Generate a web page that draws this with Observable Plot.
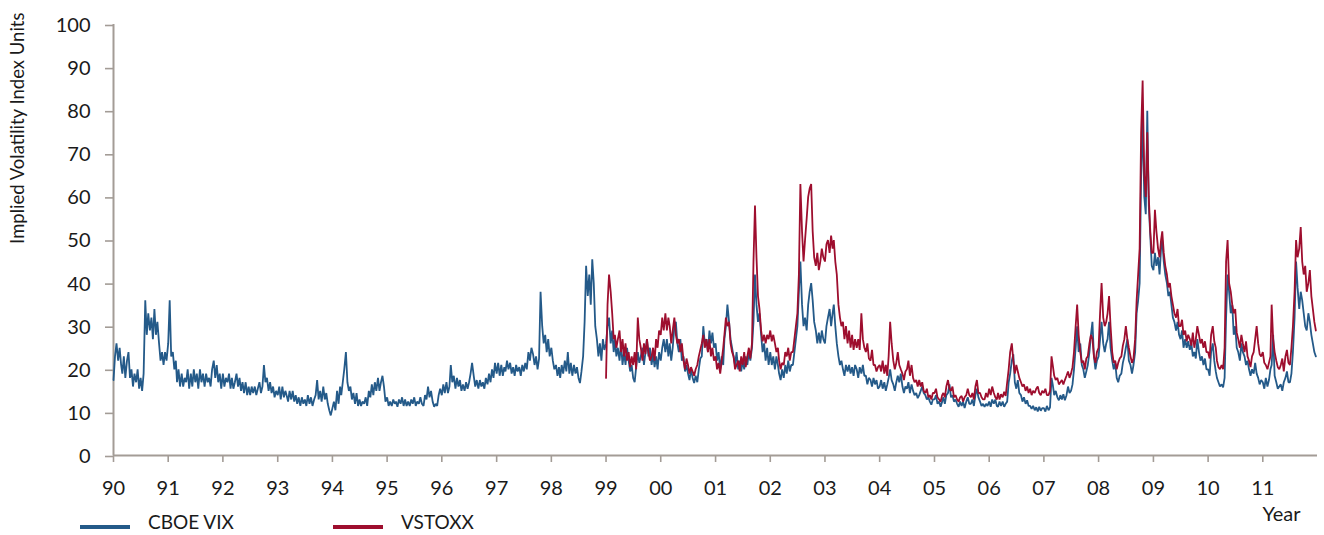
<!DOCTYPE html>
<html>
<head>
<meta charset="utf-8">
<script src="https://cdn.jsdelivr.net/npm/d3@7"></script>
<script src="https://cdn.jsdelivr.net/npm/@observablehq/plot@0.6"></script>
<style>
  html, body { margin: 0; padding: 0; background: #fff; }
  #wrap { position: relative; width: 1324px; height: 535px; overflow: hidden; font-family: Lato, "Open Sans", sans-serif; color: #1a1a1a; }
  #wrap svg { display: block; }
  .sw { position: absolute; height: 4px; top: 525px; }
  .lt { position: absolute; top: 513px; font-size: 19px; line-height: 18px; height: 18px; white-space: nowrap; }
</style>
</head>
<body>
<div id="wrap"></div>
<script>
// ---- data (3 readings per month: days 1, 11, 21) ----
const sampleDays = [1, 11, 21];
const vixStartYear = 1990;
const vstoxxStartYear = 1999;

const vixLevels = [
  // 1990
  17.5,23,26, 22,25,21, 19,23,18, 22,24,18, 20,16,19, 17,20,15.5, 18,15,19, 36,28,33, 29,32,27, 34,28,31, 26,22,24, 21,24,22,
  // 1991
  26,36,23, 24,20,22, 17,20,16, 19,16,18, 17,20,15.5, 19,16,20, 17,19,15.5, 20,17,19, 16,19,17, 18,16,20, 22,18,21, 17,19,15.5,
  // 1992
  19,16,18, 17,19,15.5, 18,15.5,17, 19,16,18, 15,17,14.5, 17,14,16, 14,16,14.5, 16,14,15.5, 17,14.5,16, 21,17,18, 15,17,14.5, 16,13.5,15,
  // 1993
  14,16,13, 16,13.5,15, 14,12.5,15, 13,15,12.5, 14,12,13.5, 11.5,13.5,12, 13,11.5,14, 12,13.5,11.5, 13,14,17.5, 13,15,12.5, 16,13,14.5, 12,10.5,9.3,
  // 1994
  11,12.5,10.5, 15,12,16, 14,17,20, 24,17,15, 16,13,14.5, 12,14.5,11.5, 13,11.5,12.5, 12,13.5,11.5, 15,13.5,16.5, 14,17,15, 18,15,17, 18.5,16,12.5,
  // 1995
  13.5,11.5,12.5, 11.5,13,12, 12.5,11.3,13, 12,13.5,11.5, 13,11.5,12.5, 11.5,13,12, 13.5,11.5,12.5, 12,13.5,12, 11.5,14,13, 16,13.5,15, 12.5,11.3,12, 11.5,14,15.5,
  // 1996
  14,16.5,14.5, 17,14.5,16, 21,17,18.5, 15.5,18,16, 17.5,15,16.5, 15,17,15.5, 17,19,21.5, 18.5,16,17.5, 15.5,17.5,16, 17,15.5,18, 16.5,19,17, 20,18,21.5,
  // 1997
  19,21.5,18.5, 21,18.5,20.5, 19.5,22,20, 21.5,19,20.5, 18.5,21,19.5, 20.5,18.5,21, 19.5,21.5,20, 24,22,25, 23.5,21,23, 20,22.5,38, 30,26,28, 24,27,23,
  // 1998
  25,22,20, 21,18.5,20.5, 18,21,19, 22,19.5,24, 19,21.5,18.5, 21,19,20.5, 18,16.8,19.5, 23,31,44, 37,42,35, 45.5,40,30, 27,23,26, 22,27,24.5,
  // 1999
  26,30,32, 26,29,24, 27,23,25, 22,26,21, 24,21,25, 22,19.5,21, 18,17,20.5, 24,21.5,23, 25,21,24, 27,23,25, 21,23.5,20.5, 23,20,24,
  // 2000
  22,25,27, 24,27,23, 26,22,25, 30,31,26, 24,27,22, 23,19.5,21, 19,17.5,20, 18,16.8,18.5, 17,20,22.5, 23,30,26, 27,24,29, 26,28.5,25,
  // 2001
  26,22,24, 20,23,21, 27,30,35, 31,27,25, 23,21,24, 20,22,19.5, 22,20,23, 21,24,22, 25,31,42, 35,31,33, 28,24,26, 22,25,21,
  // 2002
  24,21,23, 20,23,21, 19,17.5,20, 18,21,19, 22,19.5,21, 21,24,27, 30,38,45, 35,30,32, 29,35,38, 40,36,31, 29,26,28.5, 26,29,27,
  // 2003
  26,30,32, 34,30,33, 35,30,26, 23,21,22, 20,18.5,21, 19.5,21,19, 20.5,18.5,21, 20,18,20.5, 19,21,18.5, 18.5,16.5,18, 17.5,16,18, 16.5,17.5,15.5,
  // 2004
  16,17.5,15.5, 17,15,16.5, 18,20,17.5, 16.5,15,17, 18.5,17,19, 16,14.5,16, 15.5,17,14.5, 16.5,15,14, 14.5,13.3,14, 15,16,14.5, 14,13,13.5, 12.5,11.8,13,
  // 2005
  13,14,12, 12.5,11.3,12.5, 13.5,12,14, 14.5,16.5,13.5, 14,12.5,13, 12,11.3,12.5, 11.5,12.5,11, 12.5,13.5,12, 12,13,11.5, 14,15.5,13.5, 12.5,11.5,12, 11.3,12,11.5,
  // 2006
  12.5,11.3,13, 12,13,11.5, 11.3,12.5,11.5, 12.5,11.3,12, 12.5,17,19, 22,23.5,17, 15.5,17.5,14.5, 14,12.5,13.5, 12,12.8,11.5, 11.5,10.8,11.5, 10.5,11.2,10.2, 11.3,10.4,11,
  // 2007
  11,10.2,11.5, 10.5,11.2,18, 16.5,14,15, 13.5,12.8,14, 13,14.2,12.8, 14,16,14.5, 15,16.5,20, 25,30,24, 26,21,20, 18,19.5,21, 24,28,31, 23,20,22,
  // 2008
  23,27,31, 26,24,26, 27,31,25, 22,20,21.5, 18,17,18.5, 19,21.5,23, 25,27,22, 21,19,21, 24,33,36, 40,65,78, 60,56,80, 58,51,44,
  // 2009
  43,47,44, 46,42,48, 50,45,42, 40,37,38, 35,32,31, 29,31,28, 27,29,25, 27,25,26.5, 24.5,26,23, 24,22.5,27, 24,22,23, 21,22.5,20,
  // 2010
  20,18.5,24, 26,22,19.5, 18,17,16, 16.5,15.8,18, 32,42,38, 33,35,28, 30,25,24, 22,26,24, 23,21,22, 20,18.5,20, 19,21.5,19, 18,16.5,17.5,
  // 2011
  17,15.5,18, 16,17.5,20, 21,28,18.5, 17,15.5,16, 16.5,15,17, 18,19.5,17, 17,19,24, 32,45,39, 34,38,36, 33,30,29, 33,31,28, 26,24,23
];

const vstoxxLevels = [
  // 1999
  18,35,42, 38,33,27, 28,25,27, 29,24,27, 23,26,22, 24,20.5,23, 21,24,20, 32,27,25, 22,26,23.5, 27,24,22, 23,25,22, 27,25,29,
  // 2000
  28,32,29, 33,29,32, 30,26,29, 32,28,26, 27,24,26, 22,20,22.5, 21,19,20.5, 19.5,18.5,20, 21,23,24.5, 26,28,25, 27,24,27, 23,25,22,
  // 2001
  23,20,21.5, 19,22,25, 28,32,30, 31,26,24, 23,20,21, 22,19.5,23, 21,24,20.5, 23,25,22.5, 26,45,58, 46,37,34, 29,26.5,28, 26,28,27,
  // 2002
  29,26.5,28, 26,24,25, 22,20,21.5, 21,24,23, 25,22,24, 24,27,30, 33,42,63, 52,45,50, 55,60,62, 63,52,46, 44,47,43, 45,48,46,
  // 2003
  45,49,50, 47,51,48, 50,45,42, 35,32,30, 31,27,30, 26,29,25, 28,24.5,27, 25,27,24.5, 33,27,25, 24,26,22.5, 22,24.5,21, 21,19.5,20.5,
  // 2004
  21,19.5,22, 19,21,18.5, 23,31,26, 22,20,21.5, 24,21,20, 19,17.5,19.5, 20,22,18.5, 21,18,17, 17.5,16,17.5, 16,17,15, 14.5,15.5,13.5, 14,13,14.5,
  // 2005
  14.5,15.5,13.5, 13,12.5,14, 14.5,13.5,16, 17.5,15.5,15, 16,13.5,14, 13,12.5,13.5, 13.8,12.5,13.5, 14,15.5,14, 13.5,14.5,13, 16,17.5,14.5, 14.5,13.5,13, 13,14.5,13.5,
  // 2006
  15.5,14,16, 14.5,13.5,13, 14.5,13,14.2, 13.5,14.8,13.8, 17,20,24, 26,22,19, 21,19.5,18, 17,16,16.5, 15,16,14.5, 15.5,14,15, 14.5,15.5,16, 14.5,14,15,
  // 2007
  14.5,15.5,14, 14,15,23, 21,18.5,17.5, 18,16.5,17, 17.5,16.5,17.5, 18.5,19.5,18, 19,20.5,24, 30,35,28, 24,21.5,22, 20,22.5,23, 26,28,27, 23,21.5,24,
  // 2008
  25,33,40, 32,30,31, 33,37,30, 24,21.5,22, 20,21.5,22.5, 23,25.5,27, 30,27,25, 23,21.5,22.5, 27,36,42, 48,75,87, 65,60,75, 60,52,47,
  // 2009
  47,57,52, 48,46,50, 52,47,44, 42,39,40, 37,35,33, 32,34,30, 30,31.5,28, 29,26.5,28, 27,25.5,28.5, 25,27,30, 28,26,27, 25,26.5,24,
  // 2010
  24,22.5,28, 30,26.5,25, 22,20.5,20, 21,20,25, 45,50,40, 38,35,33, 34,28.5,27, 25,28,26, 24,26.5,23, 22,20.5,23, 24,27,30, 26,23.5,23,
  // 2011
  24,21.5,21, 20,21.5,23, 35,27,24, 22,20.5,20, 21,22.5,19.5, 23,24.5,21.5, 21,25,30, 38,50,46, 48,53,45, 42,44,38, 40,43,37, 34,31,29
];

const xTickYears = d3.range(1990, 2012);   // tick labels 90 ... 11
const yTickValues = d3.range(0, 101, 10);  // 0 ... 100
const seriesNames = ["CBOE VIX", "VSTOXX"];
const seriesColors = ["#245a89", "#9e0e2e"];
const yAxisTitle = "Implied Volatility Index Units";
const xAxisTitle = "Year";

// ---- build tables ----
function toRows(levels, startYear, name) {
  return levels.map((v, i) => ({
    series: name,
    date: new Date(Date.UTC(startYear + Math.floor(i / 36), Math.floor((i % 36) / 3), sampleDays[i % 3])),
    value: v
  }));
}
const vixRows = toRows(vixLevels, vixStartYear, seriesNames[0]);
const vstoxxRows = toRows(vstoxxLevels, vstoxxStartYear, seriesNames[1]);

const axisColor = "#a39c96";
const textColor = "#1a1a1a";
const xStart = new Date(Date.UTC(1990, 0, 1));
const xEnd = new Date(Date.UTC(2012, 0, 1));

const chart = Plot.plot({
  width: 1324,
  height: 535,
  marginLeft: 113,
  marginRight: 7,
  marginTop: 24,
  marginBottom: 80,
  style: { fontFamily: "Lato, 'Open Sans', sans-serif", fontSize: "20px", color: textColor, background: "#fff" },
  x: { type: "utc", domain: [xStart, xEnd] },
  y: { domain: [0, 100] },
  marks: [
    Plot.axisY({
      ticks: yTickValues, tickSize: 8, tickPadding: 15, stroke: axisColor, strokeWidth: 1.6,
      fill: textColor, fontSize: 20, label: null, dy: 1
    }),
    Plot.axisX({
      ticks: xTickYears.map(y => new Date(Date.UTC(y, 0, 1))),
      tickFormat: d3.utcFormat("%y"), tickSize: 7, tickPadding: 18,
      stroke: axisColor, strokeWidth: 1.6, fill: textColor, fontSize: 20, label: null
    }),
    Plot.ruleY([0], { stroke: axisColor, strokeWidth: 2 }),
    Plot.ruleX([xStart], { stroke: axisColor, strokeWidth: 2 }),
    Plot.line(vixRows, { x: "date", y: "value", stroke: seriesColors[0], strokeWidth: 1.8, strokeLinejoin: "miter" }),
    Plot.line(vstoxxRows, { x: "date", y: "value", stroke: seriesColors[1], strokeWidth: 1.8, strokeLinejoin: "miter" }),
    Plot.text([yAxisTitle], {
      frameAnchor: "top-left", rotate: -90, textAnchor: "end", lineAnchor: "middle",
      dx: -95, dy: -12, fontSize: 18.5, fill: textColor
    }),
    Plot.text([xAxisTitle], {
      frameAnchor: "bottom-right", textAnchor: "end", lineAnchor: "middle",
      dx: -17, dy: 59, fontSize: 20, fill: textColor
    })
  ]
});

const wrap = document.getElementById("wrap");
wrap.appendChild(chart);

// legend (HTML, at the foot of the figure)
const legendLeft = [80, 333];
seriesNames.forEach((name, k) => {
  const sw = document.createElement("div");
  sw.className = "sw";
  sw.style.left = legendLeft[k] + "px";
  sw.style.width = "50px";
  sw.style.background = seriesColors[k];
  wrap.appendChild(sw);
  const t = document.createElement("div");
  t.className = "lt";
  t.style.left = (legendLeft[k] + 68) + "px";
  t.textContent = name;
  wrap.appendChild(t);
});
</script>
</body>
</html>
